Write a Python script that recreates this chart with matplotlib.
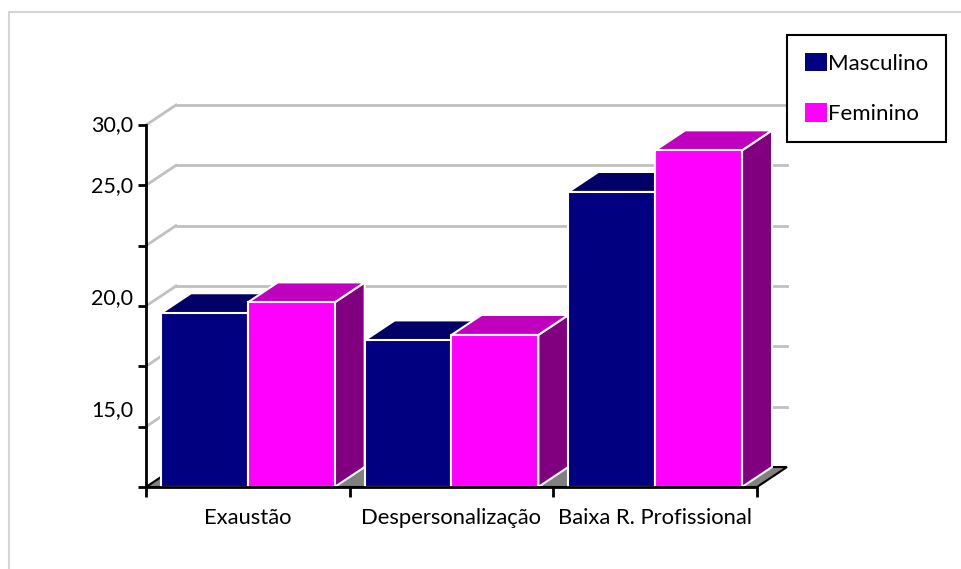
import matplotlib as mpl
mpl.use('Agg')

import matplotlib.pyplot as plt
from matplotlib.patches import Polygon, Rectangle, Patch
import numpy as np

# ========================================================================================
# donnees

categories = ["Exaustão", "Despersonalização", "Baixa R. Profissional"]
series_names = ["Masculino", "Feminino"]
masculino = [19.6, 18.1, 26.3]
feminino = [20.2, 18.4, 28.6]

y_min, y_max = 10.0, 30.0
y_tick_labels = ["30,0", "25,0", "20,0", "15,0"]
# les etiquettes de l'axe sont decalees dans l'original
y_label_pos = [30.0, 26.63, 20.44, 14.25]

# ========================================================================================
# style

plt.rcParams['font.family'] = ['Lato', 'DejaVu Sans']

front_colors = ["#000080", "#FF00FF"]
top_colors = ["#000066", "#BF00BF"]
side_colors = ["#000040", "#800080"]
grid_color = "#C0C0C0"
floor_color = "#808080"

W, H, DPI = 962, 569, 100
DEPTH_X_PX, DEPTH_Y_PX = 30, 20

fig = plt.figure(figsize=(W / DPI, H / DPI), dpi=DPI)
ax_left, ax_right, ax_top, ax_bottom = 146, 757, 125, 487
ax = fig.add_axes([ax_left / W, 1 - ax_bottom / H,
                   (ax_right - ax_left) / W, (ax_bottom - ax_top) / H])

n = len(categories)
ax.set_xlim(0, n)
ax.set_ylim(y_min, y_max)

dx = DEPTH_X_PX * n / (ax_right - ax_left)
dy = DEPTH_Y_PX * (y_max - y_min) / (ax_bottom - ax_top)

# cadre exterieur gris clair
fig.add_artist(Rectangle((9 / W, -0.5), 2.0, 1.5 - 12 / H, transform=fig.transFigure,
                         fill=False, edgecolor="#D4D4D4", linewidth=1.5))

# ========================================================================================
# mur du fond : lignes de grille

ticks = np.linspace(y_min, y_max, 7)
for t in ticks[1:]:
    ax.plot([0, dx], [t, t + dy], color=grid_color, lw=2, clip_on=False, zorder=1)
    ax.plot([dx, n + dx], [t + dy, t + dy], color=grid_color, lw=2, clip_on=False, zorder=1)

# sol
ax.add_patch(Polygon([(0, y_min), (n, y_min), (n + dx, y_min + dy), (dx, y_min + dy)],
                     closed=True, facecolor=floor_color, edgecolor="black", lw=1.5,
                     clip_on=False, zorder=2))

# ========================================================================================
# barres 3D

bar_w = 87 / 204
gap = (1 - 2 * bar_w) / 2
x = np.arange(n)

z = 3
for i in range(n):
    for s, values in enumerate([masculino, feminino]):
        left = x[i] + gap + s * bar_w
        v = values[i]
        bars = ax.bar([left], [v - y_min], bottom=y_min, width=bar_w, align='edge',
                      color=front_colors[s], edgecolor="white", linewidth=1.5,
                      zorder=z + 2, clip_on=False)
        r = bars[0]
        x0, x1 = r.get_x(), r.get_x() + r.get_width()
        y0, y1 = r.get_y(), r.get_y() + r.get_height()
        side = Polygon([(x1, y0), (x1 + dx, y0 + dy), (x1 + dx, y1 + dy), (x1, y1)],
                       closed=True, facecolor=side_colors[s], edgecolor="white",
                       lw=1.5, zorder=z, clip_on=False)
        top = Polygon([(x0, y1), (x1, y1), (x1 + dx, y1 + dy), (x0 + dx, y1 + dy)],
                      closed=True, facecolor=top_colors[s], edgecolor="white",
                      lw=1.5, zorder=z + 1, clip_on=False)
        ax.add_patch(side)
        ax.add_patch(top)
        z += 3

# ========================================================================================
# axes

for sp in ["top", "right"]:
    ax.spines[sp].set_visible(False)
for sp in ["left", "bottom"]:
    ax.spines[sp].set_linewidth(2)
    ax.spines[sp].set_zorder(50)

ax.set_yticks(ticks)
ax.set_yticklabels([])
ax.tick_params(axis='y', direction='out', length=6, width=2)

ax.set_xticks(np.arange(n + 1))
ax.set_xticklabels([])
ax.tick_params(axis='x', which='major', direction='out', length=7, width=2)
ax.set_xticks(x + 0.5, minor=True)
ax.set_xticklabels(categories, minor=True, fontsize=15.8)
ax.tick_params(axis='x', which='minor', length=0, pad=15)

for lab, pos in zip(y_tick_labels, y_label_pos):
    ax.text(-13 * n / (ax_right - ax_left), pos, lab, ha='right', va='center',
            fontsize=15.5, transform=ax.transData, clip_on=False)

# ========================================================================================
# legende

handles = [Patch(facecolor=c, edgecolor='none') for c in front_colors]
leg = fig.legend(handles, series_names, loc='upper left',
                 bbox_to_anchor=(787 / W, 1 - 35 / H), fontsize=16,
                 frameon=True, fancybox=False, shadow=False, framealpha=1,
                 edgecolor='black', handlelength=1.0, handleheight=0.9,
                 handletextpad=0.05, labelspacing=1.33, borderpad=0.8,
                 borderaxespad=0)
leg.get_frame().set_linewidth(1.5)

plt.savefig("out.png", dpi=DPI)
